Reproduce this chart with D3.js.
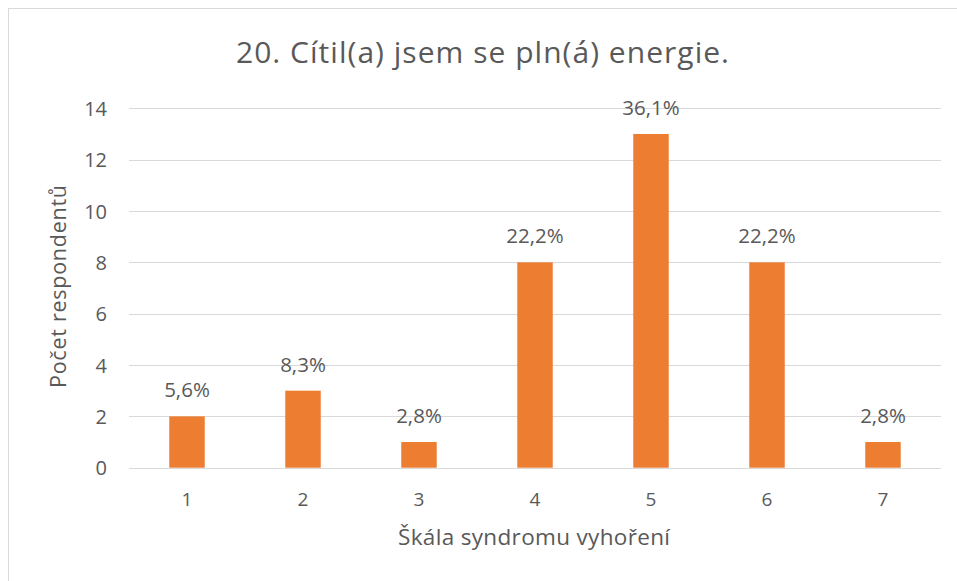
<!DOCTYPE html>
<html><head><meta charset="utf-8">
<script src="https://cdn.jsdelivr.net/npm/d3@7"></script>
<style>body{margin:0;background:#fff;} text{font-family:"Open Sans",Lato,sans-serif;}</style>
</head><body>
<svg id="c" width="957" height="581"></svg>
<script>
const categories = ["1","2","3","4","5","6","7"];
const counts = [2,3,1,8,13,8,1];
const percentLabels = ["5,6%","8,3%","2,8%","22,2%","36,1%","22,2%","2,8%"];
const yTicks = [0,2,4,6,8,10,12,14];
const title = "20. Cítil(a) jsem se pln(á) energie.";
const xTitle = "Škála syndromu vyhoření";
const yTitle = "Počet respondentů";

const svg = d3.select("#c");
const txt = "#595959";
svg.append("rect").attr("x",8.5).attr("y",8.5).attr("width",1000).attr("height",1000)
  .attr("fill","#fff").attr("stroke","#d9d9d9").attr("stroke-width",1);

const pL=129, pR=941, pT=108.3, pB=467.7;
const x = d3.scaleBand().domain(categories).range([pL,pR]).padding(0);
const y = d3.scaleLinear().domain([0,14]).range([pB,pT]);
const bw = 35.5;

svg.append("g").selectAll("line").data(yTicks).join("line")
  .attr("x1",pL).attr("x2",pR).attr("y1",d=>Math.round(y(d))+0.5).attr("y2",d=>Math.round(y(d))+0.5)
  .attr("stroke","#d9d9d9").attr("stroke-width",1);

const yAxis = d3.axisLeft(y).tickValues(yTicks).tickSize(0).tickPadding(0);
const gy = svg.append("g").attr("transform",`translate(107,0)`).call(yAxis);
gy.select(".domain").remove();
gy.selectAll("text").attr("fill",txt).style("font-size","20px").attr("dy","0.36em").attr("x",0);

svg.append("g").selectAll("rect").data(counts).join("rect")
  .attr("x",(d,i)=>x(categories[i])+x.bandwidth()/2-bw/2)
  .attr("width",bw)
  .attr("y",d=>y(d)).attr("height",d=>y(0)-y(d))
  .attr("fill","#ed7d31");

svg.append("g").selectAll("text").data(counts).join("text")
  .attr("x",(d,i)=>x(categories[i])+x.bandwidth()/2)
  .attr("y",d=>y(d)-19)
  .attr("text-anchor","middle").attr("fill",txt).style("font-size","20.5px")
  .text((d,i)=>percentLabels[i]);

const xAxis = d3.axisBottom(x).tickSize(0).tickPadding(0);
const gx = svg.append("g").attr("transform",`translate(0,${pB})`).call(xAxis);
gx.select(".domain").remove();
gx.selectAll("text").attr("fill",txt).style("font-size","19px").attr("dy",0).attr("y",38.3);

svg.append("text").attr("x",482.5).attr("y",62.5).attr("text-anchor","middle")
  .attr("fill",txt).style("font-size","30px").attr("textLength",493).attr("lengthAdjust","spacing").text(title);
svg.append("text").attr("x",534).attr("y",545).attr("text-anchor","middle")
  .attr("fill",txt).style("font-size","22.5px").attr("textLength",272).attr("lengthAdjust","spacing").text(xTitle);
svg.append("text").attr("transform","translate(66,286.5) rotate(-90)").attr("text-anchor","middle")
  .attr("fill",txt).style("font-size","21.5px").attr("textLength",203).attr("lengthAdjust","spacing").text(yTitle);
</script>
</body></html>
